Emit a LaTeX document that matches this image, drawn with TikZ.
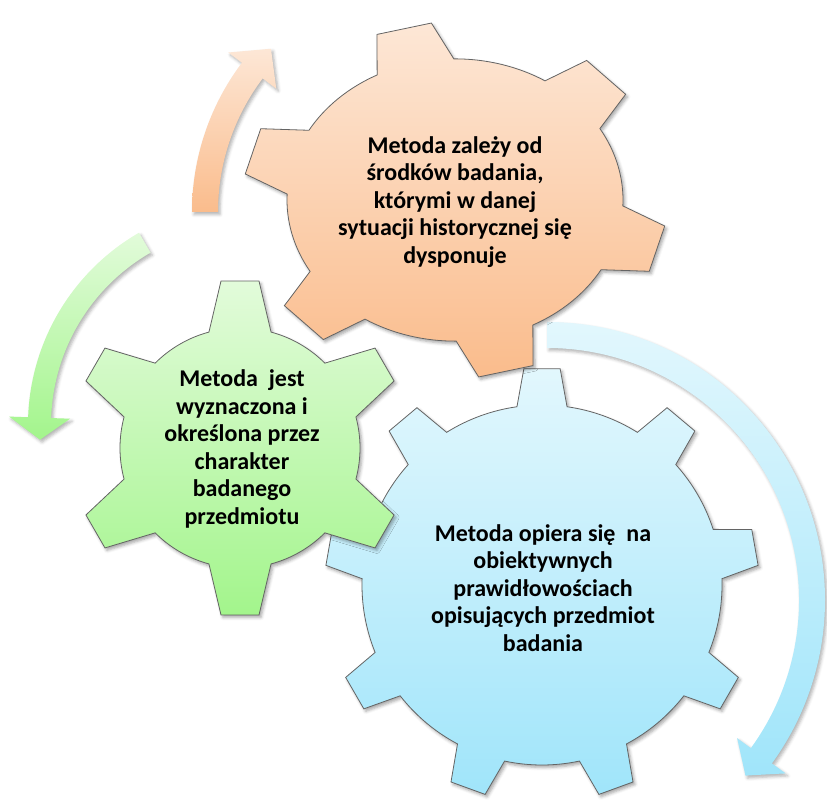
\documentclass[tikz,border=0pt]{standalone}
\usepackage{fontspec}
\setmainfont{Carlito}
\usetikzlibrary{shadows.blur}

\definecolor{orangetop}{RGB}{253,231,214}
\definecolor{orangebot}{RGB}{250,188,140}
\definecolor{greentop}{RGB}{226,251,218}
\definecolor{greenbot}{RGB}{163,245,140}
\definecolor{bluetop}{RGB}{226,247,253}
\definecolor{bluebot}{RGB}{160,229,250}
\definecolor{gearline}{RGB}{100,100,100}

\tikzstyle{gear} = [draw=gearline, line width=0.8pt, blur shadow={shadow xshift=2pt, shadow yshift=-2.5pt, shadow opacity=35, shadow blur radius=3pt}]
\tikzstyle{arcarrow} = [blur shadow={shadow xshift=2pt, shadow yshift=-2.5pt, shadow opacity=30, shadow blur radius=3pt}]
\tikzstyle{geartext} = [font=\bfseries\fontsize{24}{27.5}\selectfont, align=center, text=black]

% gear: style, centre, teeth, first tooth angle, body radius, tip radius, base half angle, tip half angle
\newcommand{\drawgear}[8]{%
  \draw[shift={#2}, #1] ({#4-#7}:#5)
  \foreach \k in {1,...,#3}{
    -- ({#4+(\k-1)*360/#3-#8}:#6) -- ({#4+(\k-1)*360/#3+#8}:#6)
    -- ({#4+(\k-1)*360/#3+#7}:#5)
    arc[start angle={#4+(\k-1)*360/#3+#7}, end angle={#4+\k*360/#3-#7}, radius=#5]
  } -- cycle;}

% curved arrow: style, centre, inner r, outer r, tail angle, head angle, tip angle, barb
\newcommand{\drawbend}[8]{%
  \draw[shift={#2}, #1] (#5:#4) arc[start angle=#5, end angle=#6, radius=#4]
  -- (#6:{#4+#8}) -- (#7:{(#3+#4)/2}) -- (#6:{#3-#8})
  -- (#6:#3) arc[start angle=#6, end angle=#5, radius=#3] -- cycle;}

\begin{document}
\begin{tikzpicture}[x=1pt, y=1pt]
\useasboundingbox (0,0) rectangle (827,800);

% arrows round the gears
\drawbend{arcarrow, top color=orangetop, bottom color=orangebot, draw=none}{(440,588)}{222}{248}{180}{143}{136}{17}
\drawbend{arcarrow, top color=greentop, bottom color=greenbot, draw=none}{(250,375)}{199}{222}{120}{178}{184}{19}
\drawbend{arcarrow, top color=bluetop, bottom color=bluebot, draw=none}{(547,200)}{252}{278}{90}{-36}{-41.5}{17}

% gears
\drawgear{gear, top color=bluetop, bottom color=bluebot}{(542,215)}{9}{90}{180}{217}{8}{4.8}
\drawgear{gear, top color=greentop, bottom color=greenbot}{(240,352)}{6}{90}{120}{168}{15}{6.5}
\drawgear{gear, yscale=0.84, top color=orangetop, bottom color=orangebot}{(455,600)}{6}{104}{168}{212}{13.6}{7.6}

\node (orangetext) [geartext] at (455,598) {Metoda zależy od\\środków badania,\\którymi w danej\\sytuacji historycznej się\\dysponuje};
\node (greentext) [geartext] at (242,351) {Metoda\ \ jest\\wyznaczona i\\określona przez\\charakter\\badanego\\przedmiotu};
\node (bluetext) [geartext] at (543,212) {Metoda opiera się\ \ na\\obiektywnych\\prawidłowościach\\opisujących przedmiot\\badania};

\end{tikzpicture}
\end{document}
